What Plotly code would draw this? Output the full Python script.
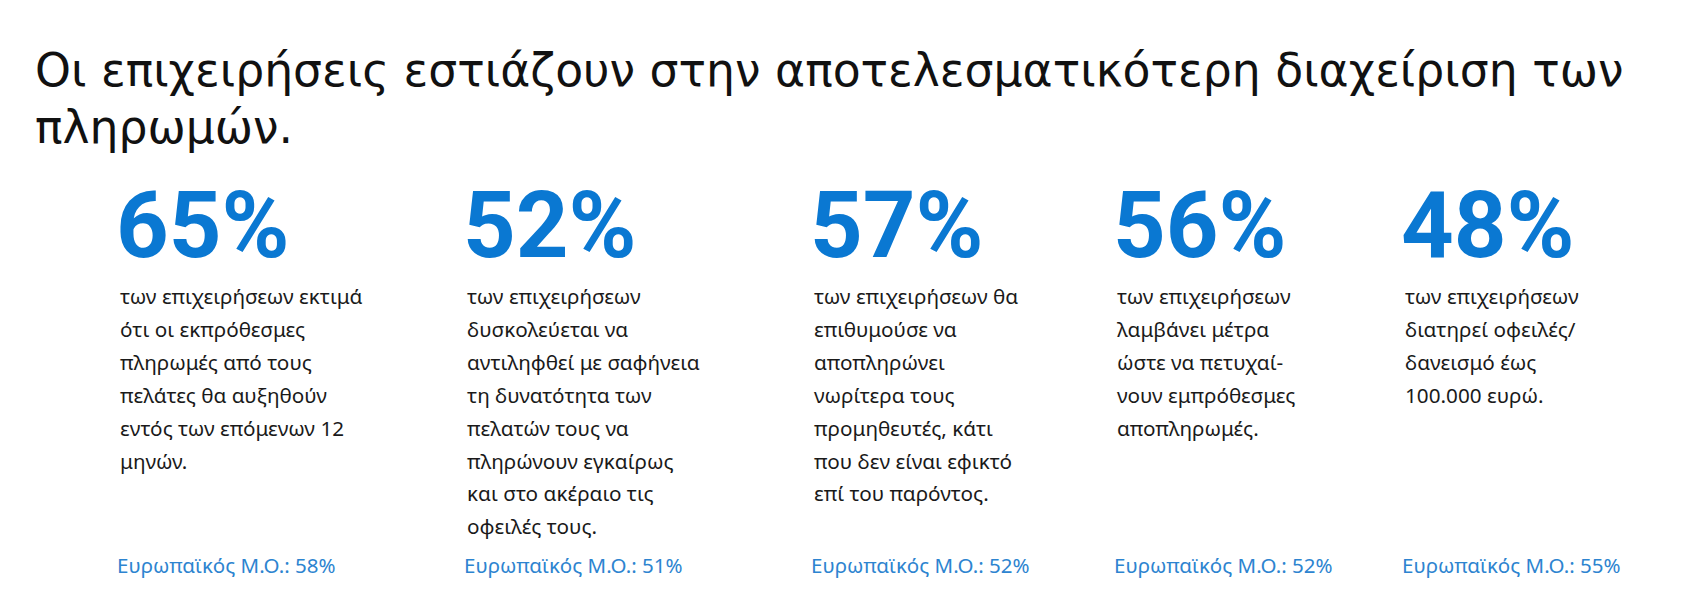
import plotly.graph_objects as go

title_lines = ["Οι επιχειρήσεις εστιάζουν στην αποτελεσματικότερη διαχείριση των",
               "πληρωμών."]
pct_values = [65, 52, 57, 56, 48]
eu_values = [58, 51, 52, 52, 55]
descriptions = [
    ["των επιχειρήσεων εκτιμά", "ότι οι εκπρόθεσμες", "πληρωμές από τους",
     "πελάτες θα αυξηθούν", "εντός των επόμενων 12", "μηνών."],
    ["των επιχειρήσεων", "δυσκολεύεται να", "αντιληφθεί με σαφήνεια",
     "τη δυνατότητα των", "πελατών τους να", "πληρώνουν εγκαίρως",
     "και στο ακέραιο τις", "οφειλές τους."],
    ["των επιχειρήσεων θα", "επιθυμούσε να", "αποπληρώνει", "νωρίτερα τους",
     "προμηθευτές, κάτι", "που δεν είναι εφικτό", "επί του παρόντος."],
    ["των επιχειρήσεων", "λαμβάνει μέτρα", "ώστε να πετυχαί-",
     "νουν εμπρόθεσμες", "αποπληρωμές."],
    ["των επιχειρήσεων", "διατηρεί οφειλές/", "δανεισμό έως", "100.000 ευρώ."],
]
eu_label = "Ευρωπαϊκός Μ.Ο.: {}%"

# page body has a default 8px margin
W, H = 1685, 597
col_x = [110, 457, 804, 1107, 1395]
BLUE = "#0a78d2"
EU_BLUE = "#2d84d0"

fig = go.Figure()

fig.add_trace(go.Scatter(
    x=[c - 2 for c in col_x], y=[226] * len(pct_values), mode="text",
    text=[f"{v}%" for v in pct_values], textposition="middle right",
    textfont=dict(family="Roboto", size=92, color=BLUE, weight=700),
    hoverinfo="skip", showlegend=False, cliponaxis=False,
))

fig.add_trace(go.Scatter(
    x=[c - 1 for c in col_x], y=[560] * len(eu_values), mode="text",
    text=[eu_label.format(v) for v in eu_values], textposition="middle right",
    textfont=dict(family="Noto Sans", size=20.5, color=EU_BLUE),
    hoverinfo="skip", showlegend=False, cliponaxis=False,
))

annotations = []
for i, line in enumerate(title_lines):
    annotations.append(dict(
        x=25, y=62 + i * 57, xref="x", yref="y", text=line, showarrow=False,
        xanchor="left", yanchor="middle",
        font=dict(family="DejaVu Sans", size=45.7, color="#111111"),
    ))

line_gap = 32.9
for cx, lines in zip(col_x, descriptions):
    for j, line in enumerate(lines):
        annotations.append(dict(
            x=cx, y=288 + j * line_gap, xref="x", yref="y", text=line,
            showarrow=False, xanchor="left", yanchor="middle",
            font=dict(family="Noto Sans", size=20.7, color="#1a1a1a"),
        ))

fig.update_layout(
    width=W, height=H,
    margin=dict(l=0, r=0, t=0, b=0),
    paper_bgcolor="white", plot_bgcolor="white",
    xaxis=dict(range=[0, W], visible=False, fixedrange=True),
    yaxis=dict(range=[H, 0], visible=False, fixedrange=True),
    annotations=annotations,
)

fig.write_html("out.html", config={"displayModeBar": False})
